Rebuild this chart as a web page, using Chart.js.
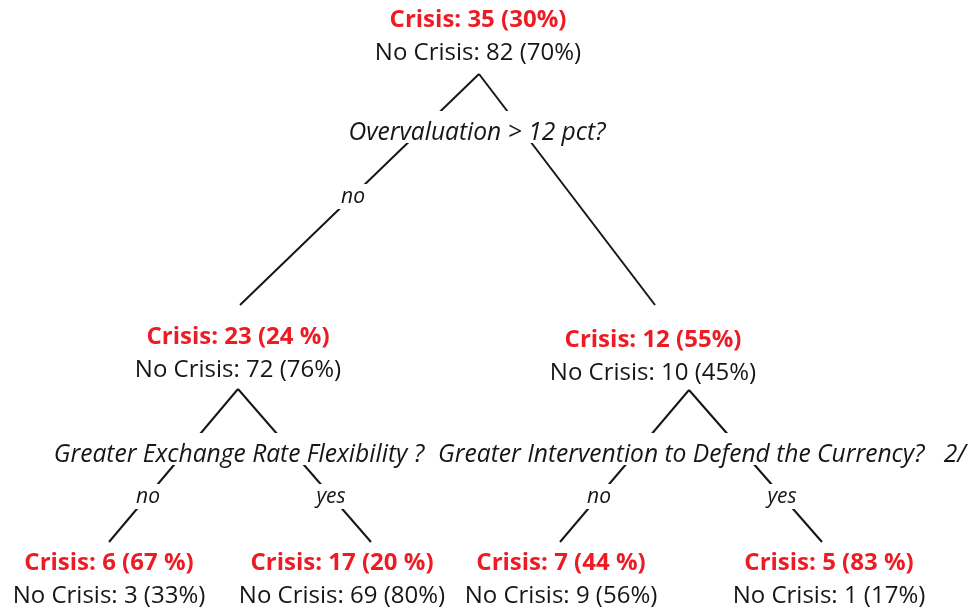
<!DOCTYPE html>
<html>
<head>
<meta charset="utf-8">
<script src="https://cdn.jsdelivr.net/npm/chart.js@4/dist/chart.umd.min.js"></script>
<style>
  html, body { margin: 0; padding: 0; background: #fff; }
  #tree { display: block; }
</style>
</head>
<body>
<canvas id="tree" width="972" height="609"></canvas>
<script>
// ---------------- data (read from the tree)
var crisisCount   = [35, 23, 12, 6, 17, 7, 5];
var crisisPct     = ["30%", "24 %", "55%", "67 %", "20 %", "44 %", "83 %"];
var noCrisisCount = [82, 72, 10, 3, 69, 9, 1];
var noCrisisPct   = ["70%", "76%", "45%", "33%", "80%", "56%", "17%"];
var questions     = ["Overvaluation > 12 pct?",
                     "Greater Exchange Rate Flexibility ?",
                     "Greater Intervention to Defend the Currency?   2/"];
var branchNames   = ["no", "yes"];
var parentOf      = [null, 0, 0, 1, 1, 2, 2];

// ---------------- layout (chart units == pixels, origin top-left)
var nodeX       = [478, 238, 653, 109, 342, 561, 829];
var nodeY       = [27, 344, 347, 570, 570, 570, 570];   // baseline of "Crisis" line
var rowGap      = 33;
var splitX      = [479, 238, 689];                      // apex under each inner node
var splitY      = [74, 389, 390];
var edgeEndX    = [null, 240, 655, 109, 371, 560, 822];
var edgeEndY    = [null, 305, 305, 542, 542, 542, 542];
var questionX   = [477, 239, 702];
var questionY   = [140, 462, 462];
var labelY      = [196, 196, 496, 496, 496, 496, 496];  // branch word centre, by child

var RED = "#ed1c24", INK = "#161616";
var FAMILY = "'Open Sans', 'Noto Sans', sans-serif";

// one line dataset per edge, from the parent's apex to the child
var edgeSets = [];
for (var i = 1; i < parentOf.length; i++) {
    var p = parentOf[i];
    edgeSets.push({
        type: 'line',
        data: [{x: splitX[p], y: splitY[p]}, {x: edgeEndX[i], y: edgeEndY[i]}],
        borderColor: INK,
        borderWidth: 2,
        pointRadius: 0,
        showLine: true,
        fill: false
    });
}

// white box under a word so the edge looks broken around it
function maskedText(ctx, text, cx, base, up, down, pad) {
    cx = Math.round(cx);
    base = Math.round(base);
    var w = Math.ceil(ctx.measureText(text).width);
    ctx.fillStyle = "#fff";
    ctx.fillRect(cx - Math.ceil(w / 2) - pad, base - up, w + 2 * pad, up + down);
    ctx.fillStyle = INK;
    ctx.fillText(text, cx, base);
}

var treeText = {
    id: 'treeText',
    afterDatasetsDraw: function(chart) {
        var ctx = chart.ctx, sx = chart.scales.x, sy = chart.scales.y;
        ctx.save();
        ctx.textAlign = "center";
        ctx.textBaseline = "alphabetic";

        // node counts
        for (var i = 0; i < crisisCount.length; i++) {
            var x = sx.getPixelForValue(nodeX[i]);
            ctx.font = "bold 24px " + FAMILY;
            ctx.fillStyle = RED;
            ctx.fillText("Crisis: " + crisisCount[i] + " (" + crisisPct[i] + ")", x, sy.getPixelForValue(nodeY[i]));
            ctx.font = "24px " + FAMILY;
            ctx.fillStyle = INK;
            ctx.fillText("No Crisis: " + noCrisisCount[i] + " (" + noCrisisPct[i] + ")", x, sy.getPixelForValue(nodeY[i] + rowGap));
        }

        // split questions, drawn over the edges
        ctx.font = "italic 24.6px " + FAMILY;
        for (var q = 0; q < questions.length; q++) {
            maskedText(ctx, questions[q], sx.getPixelForValue(questionX[q]), sy.getPixelForValue(questionY[q]), 29, 3, 4);
        }

        // no / yes on each edge, placed where the edge crosses labelY
        ctx.font = "italic 21px " + FAMILY;
        for (var c = 1; c < parentOf.length; c++) {
            var p = parentOf[c];
            var t = (labelY[c] - splitY[p]) / (edgeEndY[c] - splitY[p]);
            var lx = splitX[p] + t * (edgeEndX[c] - splitX[p]);
            var name = c % 2 === 1 ? branchNames[0] : branchNames[1];
            maskedText(ctx, name, sx.getPixelForValue(lx), sy.getPixelForValue(labelY[c] + 7), 19, 6, 20);
        }
        ctx.restore();
    }
};

var config = {
    type: 'scatter',
    data: { datasets: edgeSets },
    options: {
        responsive: false,
        animation: false,
        layout: { padding: 0 },
        plugins: { legend: { display: false }, tooltip: { enabled: false } },
        scales: {
            x: { type: 'linear', min: 0, max: 972, display: false },
            y: { type: 'linear', min: 0, max: 609, reverse: true, display: false }
        }
    },
    plugins: [treeText]
};

window.myTree = new Chart(document.getElementById("tree"), config);
</script>
</body>
</html>
